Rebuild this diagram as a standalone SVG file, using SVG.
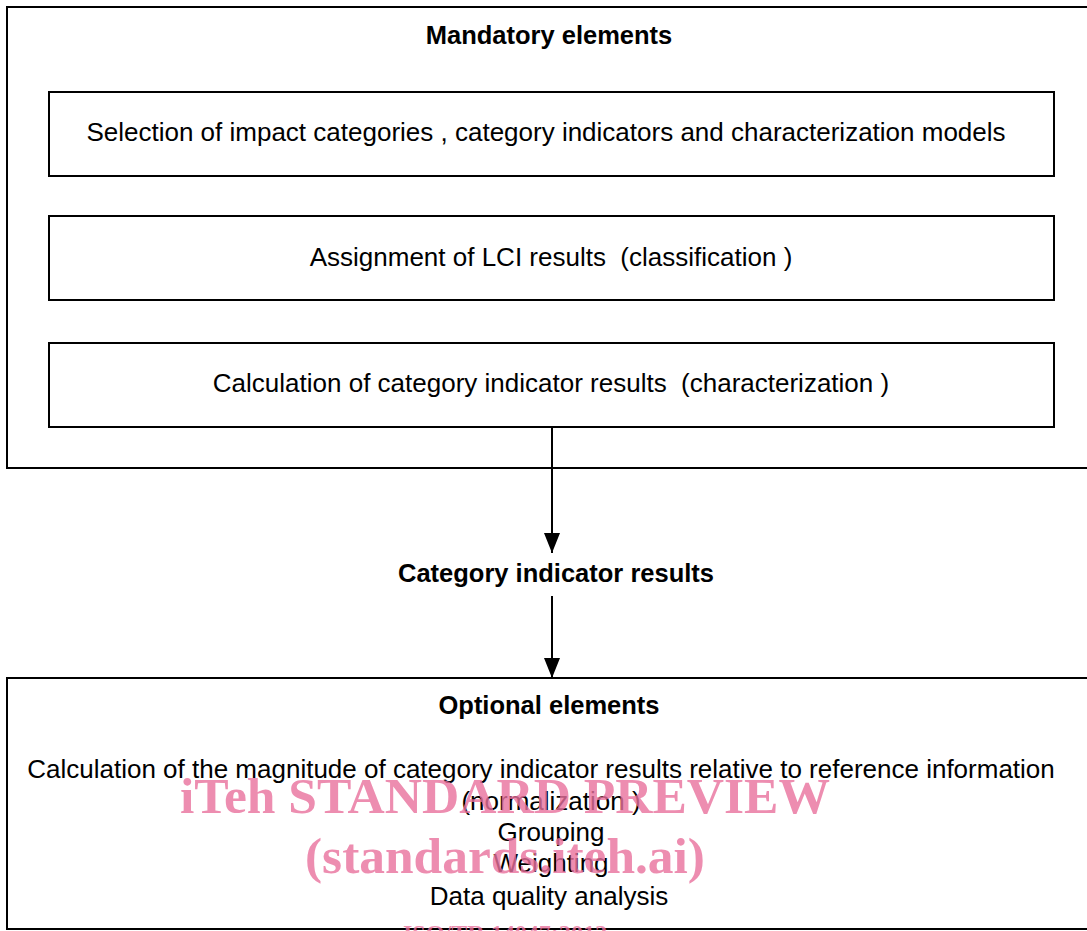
<svg xmlns="http://www.w3.org/2000/svg" width="1087" height="931" viewBox="0 0 1087 931">
<style>
.box{fill:#fff;stroke:#000;stroke-width:2}
.t{font-family:"Liberation Sans",Arial,sans-serif;font-size:26px;fill:#000;text-anchor:middle}
.b{font-weight:bold;font-size:25.5px}
.wm{font-family:"Liberation Serif","Times New Roman",serif;font-weight:bold;fill:#e8709c;fill-opacity:0.8;text-anchor:middle}
.conn{stroke:#000;stroke-width:2;fill:none}
</style>
<defs>
<marker id="ah" markerWidth="20" markerHeight="16" refX="20" refY="8" orient="auto" markerUnits="userSpaceOnUse" viewBox="0 0 20 16">
<path d="M0,0 L20,8 L0,16 Z" fill="#000"/>
</marker>
</defs>
<rect width="1087" height="931" fill="#fff"/>
<g id="mandatory">
<rect class="box" x="7" y="7" width="1090" height="461"/>
<text class="t b" x="549" y="44">Mandatory elements</text>
</g>
<g id="selection">
<rect class="box" x="49" y="92" width="1005" height="84"/>
<text class="t" x="546" y="141">Selection of impact categories , category indicators and characterization models</text>
</g>
<g id="assignment">
<rect class="box" x="49" y="216" width="1005" height="84"/>
<text class="t" x="551" y="266" xml:space="preserve">Assignment of LCI results  (classification )</text>
</g>
<g id="calculation">
<rect class="box" x="49" y="343" width="1005" height="84"/>
<text class="t" x="551" y="392" xml:space="preserve">Calculation of category indicator results  (characterization )</text>
</g>
<g id="results">
<text class="t b" x="556" y="582">Category indicator results</text>
</g>
<g id="optional">
<rect class="box" x="7" y="678" width="1090" height="251"/>
<text class="t b" x="549" y="714">Optional elements</text>
<text class="t" x="541" y="778">Calculation of the magnitude of category indicator results relative to reference information</text>
<text class="t" x="551" y="810">(normalization )</text>
<text class="t" x="551" y="841">Grouping</text>
<text class="t" x="551" y="872">Weighting</text>
<text class="t" x="549" y="905">Data quality analysis</text>
</g>
<g id="connectors">
<line class="conn" x1="552" y1="427" x2="552" y2="553" marker-end="url(#ah)"/>
<line class="conn" x1="552" y1="596" x2="552" y2="678" marker-end="url(#ah)"/>
</g>
<g id="watermark">
<text class="wm" x="505" y="813" font-size="51" textLength="650" lengthAdjust="spacingAndGlyphs">iTeh STANDARD PREVIEW</text>
<text class="wm" x="505" y="873" font-size="51" textLength="400" lengthAdjust="spacingAndGlyphs">(standards.iteh.ai)</text>
<text class="wm" x="505" y="941" font-size="24" textLength="204" lengthAdjust="spacingAndGlyphs" fill-opacity="0.6" font-weight="normal">ISO/TR 14047:2012</text>
</g>
</svg>
